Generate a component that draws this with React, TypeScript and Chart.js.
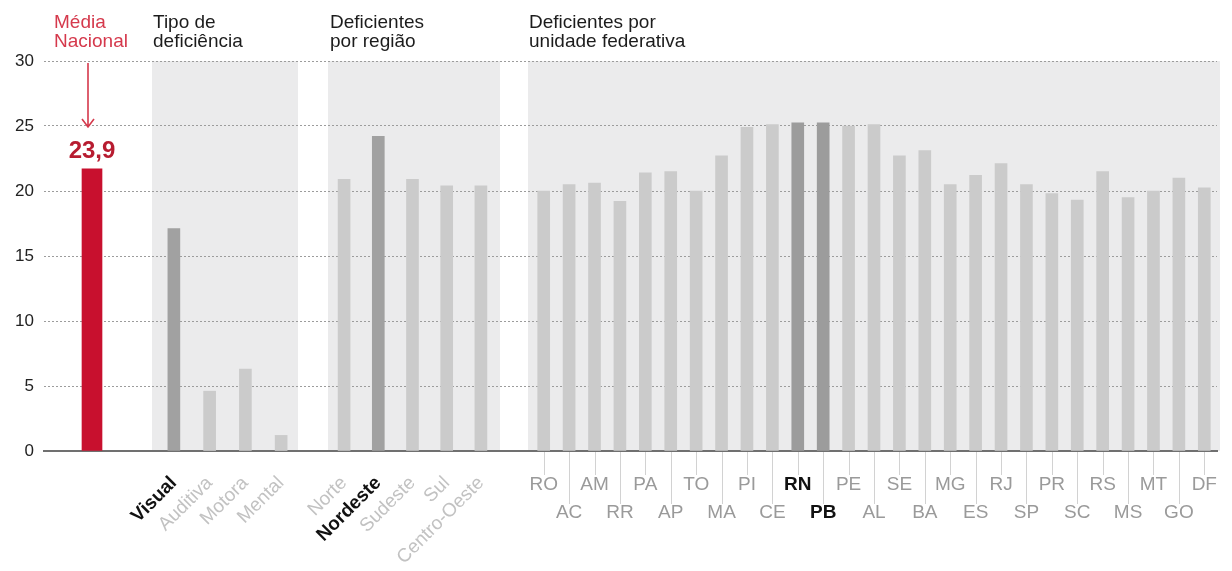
import React, { useEffect, useRef } from 'react';
import { Chart, registerables } from 'chart.js';

Chart.register(...registerables);

// ---------- data ----------
const mediaNacionalText = '23,9';
const mediaLabels = [''];
const mediaValues = [21.7];

const tipoLabels = ['Visual', 'Auditiva', 'Motora', 'Mental'];
const tipoValues = [17.1, 4.6, 6.3, 1.2];

const regiaoLabels = ['Norte', 'Nordeste', 'Sudeste', 'Sul', 'Centro-Oeste'];
const regiaoValues = [20.9, 24.2, 20.9, 20.4, 20.4];

const ufLabels = ['RO', 'AC', 'AM', 'RR', 'PA', 'AP', 'TO', 'MA', 'PI', 'CE', 'RN', 'PB', 'PE', 'AL',
  'SE', 'BA', 'MG', 'ES', 'RJ', 'SP', 'PR', 'SC', 'RS', 'MS', 'MT', 'GO', 'DF'];
const ufValues = [20.0, 20.5, 20.6, 19.2, 21.4, 21.5, 20.0, 22.7, 24.9, 25.1, 25.25, 25.25, 25.0, 25.1,
  22.7, 23.1, 20.5, 21.2, 22.1, 20.5, 19.8, 19.3, 21.5, 19.5, 20.0, 21.0, 20.25];

const yMin = 0;
const yMax = 30;
const yStep = 5;

const highlightTipo = ['Visual'];
const highlightRegiao = ['Nordeste'];
const highlightUF = ['RN', 'PB'];

const titleMedia = ['Média', 'Nacional'];
const titleTipo = ['Tipo de', 'deficiência'];
const titleRegiao = ['Deficientes', 'por região'];
const titleUF = ['Deficientes por', 'unidade federativa'];

// ---------- style ----------
const FONT = '"Liberation Sans", Arial, Helvetica, sans-serif';
const RED_BAR = '#c8102e';
const RED_TEXT = '#d5394c';
const RED_VALUE = '#b71c30';
const BAR_DARK = '#a1a1a1';
const BAR_LIGHT = '#cbcbcb';
const BAND = '#ebebec';
const LABEL_GRAY = '#9a9a9a';
const LABEL_LIGHT = '#c2c2c2';
const LABEL_DARK = '#111111';

const AXIS_HEIGHT = 120;

function xAxis(labels: any[], weight: number, ticks: any) {
  return {
    type: 'category',
    position: 'bottom',
    stack: 'x',
    stackWeight: weight,
    labels,
    offset: true,
    grid: { display: false, drawTicks: false },
    border: { display: true, color: '#707070', width: 2 },
    ticks,
    afterFit: (s: any) => {
      s.height = AXIS_HEIGHT;
      s.paddingLeft = 0;
      s.paddingRight = 0;
    },
  };
}

function rotatedTicks(labels: string[], highlight: string[]) {
  return {
    autoSkip: false,
    minRotation: 45,
    maxRotation: 45,
    padding: 21,
    labelOffset: 0,
    font: (ctx: any) => ({
      family: FONT,
      size: 19,
      weight: highlight.includes(labels[ctx.index]) ? 'bold' : 'normal',
    }),
    color: (ctx: any) => (highlight.includes(labels[ctx.index]) ? LABEL_DARK : LABEL_LIGHT),
  };
}

const decorPlugin = {
  id: 'decor',
  beforeDraw(chart: any) {
    const { ctx, chartArea, scales } = chart;
    ctx.save();
    ctx.fillStyle = BAND;
    const bands = [
      [scales.xTipo.left - 4, scales.xTipo.right - 1],
      [scales.xReg.left + 1, scales.xReg.right + 2],
      [scales.xUF.left - 3, scales.xUF.right + 3],
    ];
    for (const [l, r] of bands) {
      ctx.fillRect(l, chartArea.top, r - l, chartArea.bottom - chartArea.top);
    }
    ctx.restore();
  },
  afterDraw(chart: any) {
    const { ctx, chartArea, scales } = chart;
    ctx.save();
    // titles
    ctx.font = `19px ${FONT}`;
    ctx.textBaseline = 'alphabetic';
    ctx.textAlign = 'left';
    const drawTitle = (lines: string[], x: number, color: string) => {
      ctx.fillStyle = color;
      lines.forEach((t, i) => ctx.fillText(t, x, 28 + i * 19));
    };
    drawTitle(titleMedia, scales.xMedia.left + 10, RED_TEXT);
    drawTitle(titleTipo, scales.xTipo.left - 3, '#1c1c1c');
    drawTitle(titleRegiao, scales.xReg.left + 3, '#1c1c1c');
    drawTitle(titleUF, scales.xUF.left - 2, '#1c1c1c');

    // arrow + value label for media
    const cx = scales.xMedia.getPixelForValue(0);
    const ax = cx - 4;
    const topBar = scales.y.getPixelForValue(mediaValues[0]);
    ctx.strokeStyle = RED_TEXT;
    ctx.lineWidth = 1.6;
    ctx.beginPath();
    ctx.moveTo(ax, 63);
    ctx.lineTo(ax, 127);
    ctx.moveTo(ax - 6, 119);
    ctx.lineTo(ax, 127);
    ctx.lineTo(ax + 6, 119);
    ctx.stroke();

    ctx.fillStyle = RED_VALUE;
    ctx.font = `bold 24px ${FONT}`;
    ctx.textAlign = 'center';
    ctx.fillText(mediaNacionalText, cx, topBar - 11);

    // staggered tick lines for UF labels
    ctx.strokeStyle = '#d2d2d2';
    ctx.lineWidth = 1;
    const sx = scales.xUF;
    ufLabels.forEach((_, i) => {
      const x = Math.round(sx.getPixelForValue(i)) + 0.5;
      const y2 = chartArea.bottom + (i % 2 === 0 ? 24 : 53);
      ctx.beginPath();
      ctx.moveTo(x, chartArea.bottom + 1);
      ctx.lineTo(x, y2);
      ctx.stroke();
    });
    ctx.restore();
  },
};

export default function App() {
  const ref = useRef<HTMLCanvasElement | null>(null);

  useEffect(() => {
    if (!ref.current) return;
    const chart = new Chart(ref.current, {
      type: 'bar',
      data: {
        datasets: [
          {
            data: mediaValues,
            xAxisID: 'xMedia',
            backgroundColor: RED_BAR,
            barThickness: 20,
            grouped: false,
          },
          {
            data: tipoValues,
            xAxisID: 'xTipo',
            backgroundColor: tipoLabels.map((l) => (highlightTipo.includes(l) ? BAR_DARK : BAR_LIGHT)),
            barThickness: 12,
            grouped: false,
          },
          {
            data: regiaoValues,
            xAxisID: 'xReg',
            backgroundColor: regiaoLabels.map((l) => (highlightRegiao.includes(l) ? BAR_DARK : BAR_LIGHT)),
            barThickness: 12,
            grouped: false,
          },
          {
            data: ufValues,
            xAxisID: 'xUF',
            backgroundColor: ufLabels.map((l) => (highlightUF.includes(l) ? '#9c9c9c' : BAR_LIGHT)),
            barThickness: 12,
            grouped: false,
          },
        ],
      } as any,
      options: {
        animation: false,
        responsive: false,
        maintainAspectRatio: false,
        layout: { padding: { top: 61, right: 15, bottom: 0, left: 0 } },
        plugins: { legend: { display: false }, tooltip: { enabled: false } },
        scales: {
          y: {
            type: 'linear',
            position: 'left',
            min: yMin,
            max: yMax,
            ticks: {
              stepSize: yStep,
              padding: 10,
              color: '#222',
              font: { family: FONT, size: 17 },
            },
            grid: { color: '#9c9c9c', lineWidth: 1, drawTicks: false },
            border: { display: false, dash: [2, 2] },
            afterFit: (s: any) => {
              s.width = 44;
            },
          },
          xMedia: xAxis(mediaLabels, 96, { display: false }),
          xGap0: xAxis([''], 16, { display: false }),
          xTipo: xAxis(tipoLabels, 143, rotatedTicks(tipoLabels, highlightTipo)),
          xGap1: xAxis([''], 28, { display: false }),
          xReg: xAxis(regiaoLabels, 171, rotatedTicks(regiaoLabels, highlightRegiao)),
          xGap2: xAxis([''], 33, { display: false }),
          xUF: xAxis(
            ufLabels.map((l, i) => (i % 2 === 0 ? l : ['', l])),
            686,
            {
              autoSkip: false,
              minRotation: 0,
              maxRotation: 0,
              padding: 20,
              font: (ctx: any) => ({
                family: FONT,
                size: 19,
                lineHeight: '28px',
                weight: highlightUF.includes(ufLabels[ctx.index]) ? 'bold' : 'normal',
              }),
              color: (ctx: any) => (highlightUF.includes(ufLabels[ctx.index]) ? LABEL_DARK : LABEL_GRAY),
            }
          ),
        } as any,
      },
      plugins: [decorPlugin],
    });
    return () => chart.destroy();
  }, []);

  return (
    <div style={{ position: 'fixed', left: 0, top: 0, width: 1232, height: 571, background: '#fff' }}>
      <canvas ref={ref} width={1232} height={571} style={{ width: 1232, height: 571, display: 'block' }} />
    </div>
  );
}
